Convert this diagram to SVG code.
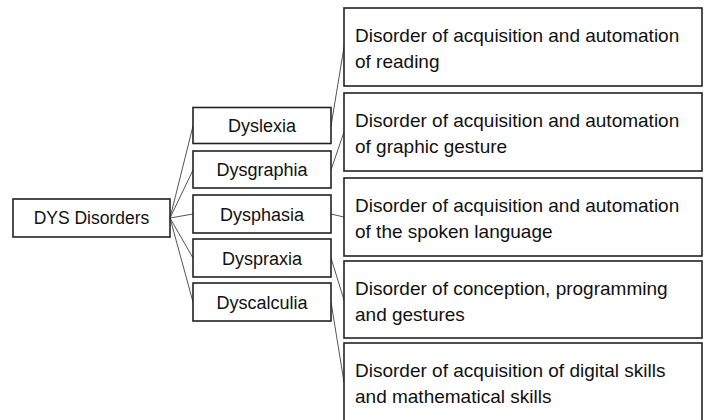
<svg xmlns="http://www.w3.org/2000/svg" width="704" height="420" viewBox="0 0 704 420">
<style>
rect{fill:#fff;stroke:#222;stroke-width:1.6}
text{font-family:"Liberation Sans",Arial,sans-serif;font-size:19px;fill:#111}
.c{text-anchor:middle;font-size:18px}
.r{font-size:17.5px}
#connectors line{stroke:#555;stroke-width:1}
</style>
<rect x="0" y="0" width="704" height="420" style="stroke:none"/>
<g id="connectors">
<line x1="170" y1="218" x2="193" y2="126"/>
<line x1="170" y1="218" x2="193" y2="170"/>
<line x1="170" y1="218" x2="193" y2="214"/>
<line x1="170" y1="218" x2="193" y2="258"/>
<line x1="170" y1="218" x2="193" y2="302"/>
<line x1="331" y1="126" x2="344" y2="47"/>
<line x1="331" y1="170" x2="344" y2="132"/>
<line x1="331" y1="214" x2="344" y2="217"/>
<line x1="331" y1="258" x2="344" y2="300"/>
<line x1="331" y1="302" x2="344" y2="382"/>
</g>
<g id="root"><rect x="13" y="199" width="157" height="38"/><text class="c r" x="91.5" y="224">DYS Disorders</text></g>
<g id="dyslexia"><rect x="193" y="107.5" width="138" height="36"/><text class="c" x="262" y="132">Dyslexia</text></g>
<g id="dysgraphia"><rect x="193" y="151" width="138" height="37"/><text class="c" x="262" y="176">Dysgraphia</text></g>
<g id="dysphasia"><rect x="193" y="195" width="138" height="38"/><text class="c" x="262" y="220.5">Dysphasia</text></g>
<g id="dyspraxia"><rect x="193" y="239" width="138" height="38"/><text class="c" x="262" y="264.5">Dyspraxia</text></g>
<g id="dyscalculia"><rect x="193" y="283" width="138" height="38"/><text class="c" x="262" y="308.5">Dyscalculia</text></g>
<g id="reading"><rect x="344" y="8" width="358" height="78"/><text x="355" y="42">Disorder of acquisition and automation</text><text x="355" y="68">of reading</text></g>
<g id="graphic"><rect x="344" y="93" width="358" height="78"/><text x="355" y="127">Disorder of acquisition and automation</text><text x="355" y="153">of graphic gesture</text></g>
<g id="spoken"><rect x="344" y="178" width="358" height="78"/><text x="355" y="212">Disorder of acquisition and automation</text><text x="355" y="238">of the spoken language</text></g>
<g id="conception"><rect x="344" y="261" width="358" height="77"/><text x="355" y="295">Disorder of conception, programming</text><text x="355" y="321">and gestures</text></g>
<g id="digital"><rect x="344" y="343" width="358" height="80"/><text x="355" y="377">Disorder of acquisition of digital skills</text><text x="355" y="403">and mathematical skills</text></g>
</svg>
